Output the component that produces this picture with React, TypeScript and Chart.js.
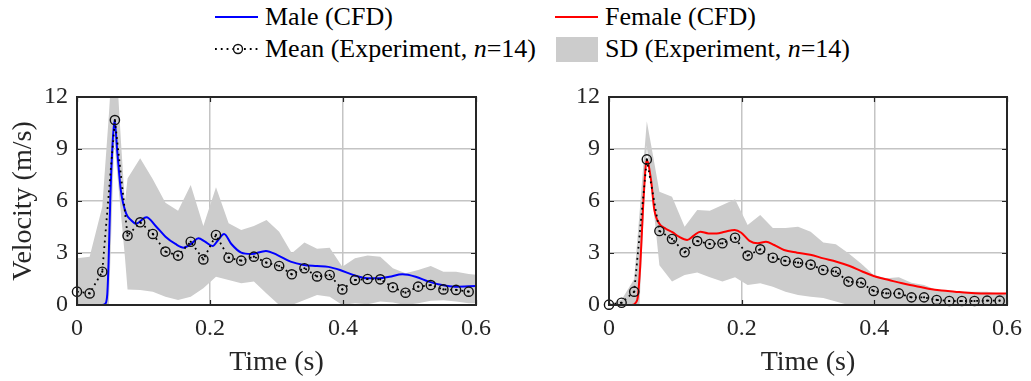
import React, { useEffect, useRef } from "react";
import { Chart, registerables } from "chart.js";

Chart.register(...registerables);

const SERIF = "'Liberation Serif', 'Times New Roman', Times, serif";
const INK = "#262626";
const GRID = "#c4c4c4";
const BAND = "#cccccc";

Chart.defaults.font.family = SERIF;
Chart.defaults.color = INK;

// axis ticks
const timeTicks = [0, 0.2, 0.4, 0.6];
const velocityTicks = [0, 3, 6, 9, 12];

// sampling instants of the measurements (s)
const expTime = [
  0, 0.019, 0.038, 0.057, 0.076, 0.095, 0.114, 0.133, 0.152, 0.171, 0.19,
  0.209, 0.228, 0.247, 0.266, 0.285, 0.304, 0.323, 0.342, 0.361, 0.38, 0.399,
  0.418, 0.437, 0.456, 0.475, 0.494, 0.513, 0.532, 0.551, 0.57, 0.589,
];

// mean measured velocity (m/s)
const maleMean = [
  0.77, 0.67, 1.92, 10.67, 4.0, 4.77, 4.1, 3.08, 2.85, 3.65, 2.63, 4.04, 2.73,
  2.56, 2.79, 2.44, 2.25, 1.77, 2.12, 1.65, 1.73, 0.9, 1.44, 1.5, 1.48, 1.02,
  0.71, 1.06, 1.15, 0.9, 0.87, 0.77,
];
const femaleMean = [
  0.02, 0.13, 0.77, 8.4, 4.27, 3.81, 3.04, 3.69, 3.52, 3.56, 3.88, 2.85, 3.21,
  2.73, 2.54, 2.44, 2.33, 2.02, 1.92, 1.35, 1.29, 0.81, 0.67, 0.67, 0.44, 0.44,
  0.29, 0.23, 0.23, 0.23, 0.25, 0.25,
];

// +/- SD envelope of the measurements
const maleSdTime = [
  0, 0.019, 0.038, 0.048, 0.056, 0.066, 0.072, 0.076, 0.095, 0.114, 0.133,
  0.152, 0.171, 0.19, 0.209, 0.228, 0.247, 0.266, 0.285, 0.304, 0.323, 0.342,
  0.361, 0.38, 0.399, 0.418, 0.437, 0.456, 0.475, 0.494, 0.513, 0.532, 0.551,
  0.57, 0.589, 0.6,
];
const maleSdUpper = [
  2.69, 2.79, 5.67, 11, 16, 9.5, 5.9, 7.3, 8.46, 7.25, 5.9, 5.44, 6.92, 4.56,
  6.79, 4.71, 4.33, 4.56, 4.9, 4.23, 2.98, 3.6, 3.25, 3.31, 2.21, 2.69, 2.85,
  2.79, 2.12, 1.83, 2.02, 2.25, 1.92, 1.92, 1.79, 1.75,
];
const maleSdLower = [
  0, 0, 0, 0, 9.5, 5.3, 2.8, 0.9, 0.87, 0.77, 0.48, 0.29, 0.48, 0.96, 1.63,
  1.44, 1.25, 1.35, 0.67, 0, 0, 0.29, 0.58, 0.48, 0, 0.1, 0.05, 0.2, 0.15, 0,
  0.1, 0.25, 0.28, 0.2, 0.1, 0.1,
];

const femaleSdTime = [
  0, 0.019, 0.038, 0.046, 0.057, 0.066, 0.076, 0.095, 0.114, 0.133, 0.152,
  0.171, 0.19, 0.209, 0.228, 0.247, 0.266, 0.285, 0.304, 0.323, 0.342, 0.361,
  0.38, 0.399, 0.418, 0.437, 0.456, 0.475, 0.494, 0.513, 0.532, 0.551, 0.57,
  0.589, 0.6,
];
const femaleSdUpper = [
  0.05, 0.3, 1.5, 5.3, 10.6, 8.7, 6.54, 6.25, 4.52, 5.48, 5.44, 5.77, 6.1,
  4.62, 5.19, 4.44, 4.44, 4.52, 4.23, 3.6, 3.5, 2.98, 2.4, 1.73, 1.54, 1.6,
  1.29, 1.15, 0.87, 0.81, 0.77, 0.77, 0.77, 0.67, 0.6,
];
const femaleSdLower = [
  0, 0, 0, 0, 9.2, 6.0, 2.3, 1.35, 1.73, 1.87, 1.6, 1.35, 1.6, 1.15, 1.25,
  1.06, 0.77, 0.58, 0.48, 0.4, 0.2, 0, 0, 0, 0, 0, 0, 0, 0, 0, 0, 0, 0, 0, 0,
];

// CFD velocity traces
const maleCfdTime = [
  0, 0.038, 0.042, 0.0455, 0.0475, 0.05, 0.053, 0.0564, 0.0604, 0.066, 0.0738,
  0.0812, 0.0886, 0.1044, 0.1183, 0.1331, 0.148, 0.1604, 0.1727, 0.1826,
  0.1926, 0.2039, 0.2123, 0.2212, 0.2321, 0.247, 0.2618, 0.2841, 0.3014,
  0.3212, 0.341, 0.3608, 0.378, 0.3955, 0.4153, 0.4366, 0.4548, 0.4697, 0.4895,
  0.5093, 0.529, 0.549, 0.5687, 0.6,
];
const maleCfdVelocity = [
  0, 0, 0.05, 0.6, 2.5, 6.06, 8.94, 10.67, 8.94, 6.6, 5.29, 4.9, 4.7, 5.06,
  4.56, 3.94, 3.52, 3.31, 3.56, 3.85, 3.65, 3.4, 3.75, 4.1, 3.52, 3.02, 2.94,
  3.12, 2.88, 2.5, 2.31, 2.25, 2.2, 2.02, 1.73, 1.54, 1.54, 1.63, 1.77, 1.63,
  1.35, 1.15, 1.06, 1.1,
];

const femaleCfdTime = [
  0, 0.034, 0.04, 0.0435, 0.047, 0.0495, 0.052, 0.0569, 0.0634, 0.0683, 0.0757,
  0.0856, 0.0955, 0.1054, 0.1178, 0.1277, 0.1376, 0.15, 0.1623, 0.1747, 0.1896,
  0.1994, 0.2118, 0.2242, 0.2366, 0.249, 0.2638, 0.2836, 0.3034, 0.3232, 0.343,
  0.3628, 0.3826, 0.4024, 0.4221, 0.442, 0.4618, 0.4815, 0.5014, 0.5212, 0.541,
  0.5608, 0.5806, 0.6,
];
const femaleCfdVelocity = [
  0, 0, 0.12, 0.48, 2.2, 4.13, 6.06, 8.37, 7.2, 5.5, 4.7, 4.4, 4.2, 3.94, 3.75,
  4.0, 4.23, 4.13, 4.13, 4.23, 4.33, 4.17, 3.7, 3.56, 3.65, 3.46, 3.17, 3.02,
  2.9, 2.69, 2.5, 2.25, 1.92, 1.63, 1.44, 1.25, 1.1, 0.94, 0.83, 0.77, 0.71,
  0.67, 0.66, 0.66,
];

type Panel = {
  cfdTime: number[];
  cfdVelocity: number[];
  cfdColor: string;
  mean: number[];
  sdTime: number[];
  sdUpper: number[];
  sdLower: number[];
  showYTitle: boolean;
  yAxisWidth: number;
  padRight: number;
  width: number;
};

const zip = (xs: number[], ys: number[]) => xs.map((x, i) => ({ x, y: ys[i] }));

const tickFont = { family: SERIF, size: 24, style: "normal" as const, weight: "normal" as const };
const titleFont = { family: SERIF, size: 28, style: "normal" as const, weight: "normal" as const };

// box around the axes plus short inward tick marks
const framePlugin = {
  id: "axesFrame",
  afterDatasetsDraw(chart: any) {
    const { ctx, chartArea: a, scales } = chart;
    ctx.save();
    ctx.strokeStyle = INK;
    ctx.lineWidth = 1.2;
    ctx.beginPath();
    for (const v of timeTicks) {
      const px = Math.round(scales.x.getPixelForValue(v)) + 0.5;
      ctx.moveTo(px, a.bottom);
      ctx.lineTo(px, a.bottom - 5);
      ctx.moveTo(px, a.top);
      ctx.lineTo(px, a.top + 5);
    }
    for (const v of velocityTicks) {
      const py = Math.round(scales.y.getPixelForValue(v)) + 0.5;
      ctx.moveTo(a.left, py);
      ctx.lineTo(a.left + 5, py);
      ctx.moveTo(a.right, py);
      ctx.lineTo(a.right - 5, py);
    }
    ctx.stroke();
    ctx.lineWidth = 2;
    ctx.strokeRect(a.left, a.top, a.right - a.left, a.bottom - a.top);
    ctx.restore();
  },
};

function buildConfig(p: Panel): any {
  return {
    type: "line",
    data: {
      datasets: [
        {
          data: zip(p.sdTime, p.sdLower),
          borderColor: "rgba(0,0,0,0)",
          borderWidth: 1,
          pointRadius: 0,
          fill: false,
          order: 10,
        },
        {
          data: zip(p.sdTime, p.sdUpper),
          borderColor: "rgba(0,0,0,0)",
          borderWidth: 1,
          backgroundColor: BAND,
          pointRadius: 0,
          fill: "-1",
          order: 9,
        },
        {
          data: zip(p.cfdTime, p.cfdVelocity),
          borderColor: p.cfdColor,
          borderWidth: 2,
          pointRadius: 0,
          cubicInterpolationMode: "monotone",
          fill: false,
          order: 3,
        },
        {
          data: zip(expTime, p.mean),
          borderColor: "#000000",
          borderWidth: 1.8,
          borderDash: [1.8, 3.8],
          pointRadius: 4.6,
          pointBorderWidth: 1.4,
          pointBorderColor: "#111111",
          pointBackgroundColor: "rgba(0,0,0,0)",
          fill: false,
          clip: false,
          order: 2,
        },
        {
          data: zip(expTime, p.mean),
          showLine: false,
          pointRadius: 1.1,
          pointBorderWidth: 0,
          pointBackgroundColor: "#000000",
          fill: false,
          clip: false,
          order: 1,
        },
      ],
    },
    options: {
      responsive: false,
      animation: false,
      events: [],
      font: tickFont,
      layout: { padding: { top: 37, right: p.padRight, left: 0, bottom: 0 } },
      plugins: { legend: { display: false }, tooltip: { enabled: false } },
      scales: {
        x: {
          type: "linear",
          min: 0,
          max: 0.6,
          afterBuildTicks: (s: any) => {
            s.ticks = timeTicks.map((value) => ({ value }));
          },
          afterFit: (s: any) => {
            s.height = 76;
          },
          grid: { color: GRID, lineWidth: 1.5, drawTicks: false },
          border: { display: false },
          ticks: {
            padding: 9,
            color: INK,
            maxRotation: 0,
            autoSkip: false,
            font: () => tickFont,
            callback: (v: any) => (Number(v) === 0 ? "0" : Number(v).toFixed(1)),
          },
          title: {
            display: true,
            text: "Time (s)",
            color: INK,
            font: titleFont,
            padding: { top: 0, bottom: 2 },
          },
        },
        y: {
          type: "linear",
          min: 0,
          max: 12,
          afterBuildTicks: (s: any) => {
            s.ticks = velocityTicks.map((value) => ({ value }));
          },
          afterFit: (s: any) => {
            s.width = p.yAxisWidth;
          },
          grid: { color: GRID, lineWidth: 1.5, drawTicks: false },
          border: { display: false },
          ticks: {
            padding: 9,
            color: INK,
            autoSkip: false,
            font: () => tickFont,
            callback: (v: any) => String(v),
          },
          title: {
            display: p.showYTitle,
            text: "Velocity (m/s)",
            color: INK,
            font: titleFont,
            padding: { top: 7, bottom: 0 },
          },
        },
      },
    },
    plugins: [framePlugin],
  };
}

function VelocityPanel(p: Panel) {
  const ref = useRef<HTMLCanvasElement | null>(null);
  useEffect(() => {
    if (!ref.current) return;
    const chart = new Chart(ref.current, buildConfig(p));
    return () => chart.destroy();
  }, []);
  return <canvas ref={ref} width={p.width} height={321} style={{ display: "block" }} />;
}

function Legend() {
  const label: React.CSSProperties = {
    position: "absolute",
    fontFamily: SERIF,
    fontSize: 26,
    lineHeight: "30px",
    color: "#000",
    whiteSpace: "nowrap",
  };
  return (
    <>
      <svg style={{ position: "absolute", left: 0, top: 0 }} width={1031} height={70}>
        <line x1={215} y1={17} x2={258} y2={17} stroke="#0000ff" strokeWidth={2} />
        <line x1={555} y1={17} x2={598} y2={17} stroke="#ff0000" strokeWidth={2} />
        <line x1={215} y1={49} x2={261} y2={49} stroke="#000" strokeWidth={1.8} strokeDasharray="1.8 4" />
        <circle cx={238} cy={49} r={4.5} fill="#fff" stroke="#111" strokeWidth={1.4} />
        <circle cx={238} cy={49} r={1.1} fill="#000" />
        <rect x={556} y={37} width={42} height={25} fill={BAND} />
      </svg>
      <div style={{ ...label, left: 265, top: 2 }}>Male (CFD)</div>
      <div style={{ ...label, left: 605, top: 2 }}>Female (CFD)</div>
      <div style={{ ...label, left: 265, top: 34 }}>
        Mean (Experiment, <i>n</i>=14)
      </div>
      <div style={{ ...label, left: 605, top: 34 }}>
        SD (Experiment, <i>n</i>=14)
      </div>
    </>
  );
}

export default function App() {
  return (
    <div
      style={{
        position: "absolute",
        left: 0,
        top: 0,
        width: 1031,
        height: 381,
        background: "#fff",
        overflow: "hidden",
      }}
    >
      <Legend />
      <div style={{ position: "absolute", left: 0, top: 60 }}>
        <VelocityPanel
          cfdTime={maleCfdTime}
          cfdVelocity={maleCfdVelocity}
          cfdColor="#0000ff"
          mean={maleMean}
          sdTime={maleSdTime}
          sdUpper={maleSdUpper}
          sdLower={maleSdLower}
          showYTitle={true}
          yAxisWidth={77}
          padRight={19}
          width={500}
        />
      </div>
      <div style={{ position: "absolute", left: 510, top: 60 }}>
        <VelocityPanel
          cfdTime={femaleCfdTime}
          cfdVelocity={femaleCfdVelocity}
          cfdColor="#ff0000"
          mean={femaleMean}
          sdTime={femaleSdTime}
          sdUpper={femaleSdUpper}
          sdLower={femaleSdLower}
          showYTitle={false}
          yAxisWidth={99}
          padRight={18}
          width={521}
        />
      </div>
    </div>
  );
}
